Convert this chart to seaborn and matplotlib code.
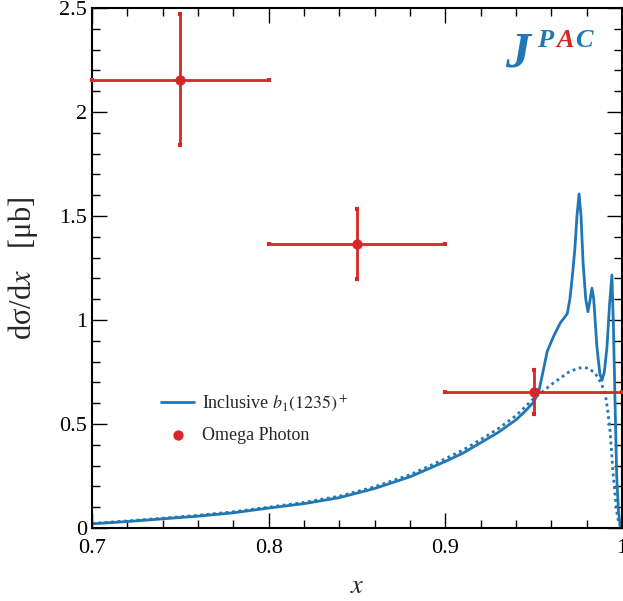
import numpy as np
import pandas as pd
import matplotlib
matplotlib.use("Agg")
import matplotlib.pyplot as plt
import seaborn as sns
from matplotlib.ticker import MultipleLocator, FuncFormatter

# Inclusive b1(1235)+ cross section (solid: full, dotted: smooth background)
x_full = [0.70, 0.72, 0.74, 0.76, 0.78, 0.80, 0.82, 0.84, 0.86, 0.88, 0.90,
          0.91, 0.92, 0.93, 0.94, 0.945, 0.95, 0.953, 0.955, 0.9577, 0.9612, 0.965,
          0.969, 0.9705, 0.972, 0.9734, 0.9745, 0.9757, 0.9768, 0.978, 0.9795,
          0.9807, 0.982, 0.983, 0.984, 0.9858, 0.9875, 0.9887, 0.990, 0.9915,
          0.993, 0.9943, 0.9952, 0.9962, 0.997, 0.998, 0.999, 1.0]
y_full = [0.020, 0.031, 0.044, 0.057, 0.073, 0.096, 0.117, 0.146, 0.19, 0.246, 0.32,
          0.36, 0.41, 0.46, 0.52, 0.56, 0.605, 0.66, 0.74, 0.85, 0.92, 0.985,
          1.03, 1.10, 1.22, 1.35, 1.50, 1.606, 1.50, 1.27, 1.10,
          1.04, 1.10, 1.153, 1.10, 0.87, 0.74, 0.71, 0.75, 0.87,
          1.08, 1.216, 0.95, 0.55, 0.25, 0.08, 0.01, 0.0]

x_bkg = [0.70, 0.72, 0.74, 0.76, 0.78, 0.80, 0.82, 0.84, 0.86, 0.88, 0.90, 0.91,
         0.92, 0.93, 0.94, 0.95, 0.955, 0.96, 0.965, 0.97, 0.975, 0.978, 0.981,
         0.9847, 0.988, 0.9904, 0.992, 0.9932, 0.995, 0.9965, 0.9975, 0.999, 1.0]
y_bkg = [0.022, 0.034, 0.047, 0.061, 0.078, 0.100, 0.123, 0.153, 0.198, 0.256, 0.333, 0.375,
         0.425, 0.478, 0.54, 0.622, 0.655, 0.69, 0.72, 0.75, 0.768, 0.772, 0.768,
         0.745, 0.70, 0.65, 0.56, 0.47, 0.26, 0.12, 0.05, 0.01, 0.0]

# Omega Photon measurements
x_data = [0.75, 0.85, 0.95]
y_data = [2.155, 1.365, 0.655]
x_err = [0.05, 0.05, 0.05]
y_err = [0.315, 0.17, 0.105]

x_ticks = [0.7, 0.8, 0.9, 1.0]
y_ticks = [0, 0.5, 1, 1.5, 2, 2.5]

blue = "#2077b4"
red = "#d62728"

sns.set_style("ticks")
plt.rcParams["font.family"] = ["Liberation Serif", "DejaVu Serif"]
plt.rcParams["mathtext.fontset"] = "stix"

fig = plt.figure(figsize=(6.23, 6.01), dpi=100)
ax = fig.add_axes([92 / 623, 1 - 528 / 601, 530 / 623, 520 / 601])

full = pd.DataFrame({"x": x_full, "y": y_full})
bkg = pd.DataFrame({"x": x_bkg, "y": y_bkg})

sns.lineplot(data=full, x="x", y="y", ax=ax, color=blue, lw=2.0,
             label=r"Inclusive $b_1(1235)^+$")
sns.lineplot(data=bkg, x="x", y="y", ax=ax, color=blue, lw=2.0,
             linestyle=(0, (1.0, 1.3)), legend=False)

ax.errorbar(x_data, y_data, xerr=x_err, yerr=y_err, fmt="none", ecolor=red,
            elinewidth=2.0, capsize=1.5, capthick=3.0, zorder=4, clip_on=False)
sns.scatterplot(x=x_data, y=y_data, ax=ax, color=red, s=55, edgecolor=red,
                linewidth=0, zorder=5, label="Omega Photon", clip_on=False)

ax.set_xlim(0.7, 1.0)
ax.set_ylim(0, 2.5)
ax.set_xticks(x_ticks)
ax.set_yticks(y_ticks)
fmt = FuncFormatter(lambda v, p: f"{v:g}")
ax.xaxis.set_major_formatter(fmt)
ax.yaxis.set_major_formatter(fmt)
ax.xaxis.set_minor_locator(MultipleLocator(0.02))
ax.yaxis.set_minor_locator(MultipleLocator(0.1))
ax.tick_params(which="both", direction="in", top=True, right=True,
               labelsize=16, colors="black", width=1.0)
ax.tick_params(which="major", length=11)
ax.tick_params(which="minor", length=6)
ax.tick_params(axis="x", which="major", pad=8)
for s in ax.spines.values():
    s.set_visible(True)
    s.set_linewidth(1.5)
    s.set_color("black")

ax.set_xlabel(r"$x$", fontsize=19, labelpad=13)
ax.set_ylabel(r"d$\mathregular{\sigma}$/d$x$   [μb]", fontsize=22, labelpad=14)

leg = ax.legend(loc="center left", bbox_to_anchor=(0.10, 0.21), frameon=False,
                fontsize=13, handlelength=1.8, handletextpad=0.45, labelspacing=0.7)

# JPAC logo
ax.text(0.779, 0.888, "J", transform=ax.transAxes, fontsize=36, color=blue,
        fontweight="bold", fontstyle="italic", family="Liberation Serif")
ax.text(0.840, 0.925, "P", transform=ax.transAxes, fontsize=19, color=blue,
        fontweight="bold", fontstyle="italic", family="Liberation Serif")
ax.text(0.876, 0.925, "A", transform=ax.transAxes, fontsize=19, color=red,
        fontweight="bold", fontstyle="italic", family="Liberation Serif")
ax.text(0.912, 0.925, "C", transform=ax.transAxes, fontsize=19, color=blue,
        fontweight="bold", fontstyle="italic", family="Liberation Serif")

fig.savefig("out.png", dpi=100)
